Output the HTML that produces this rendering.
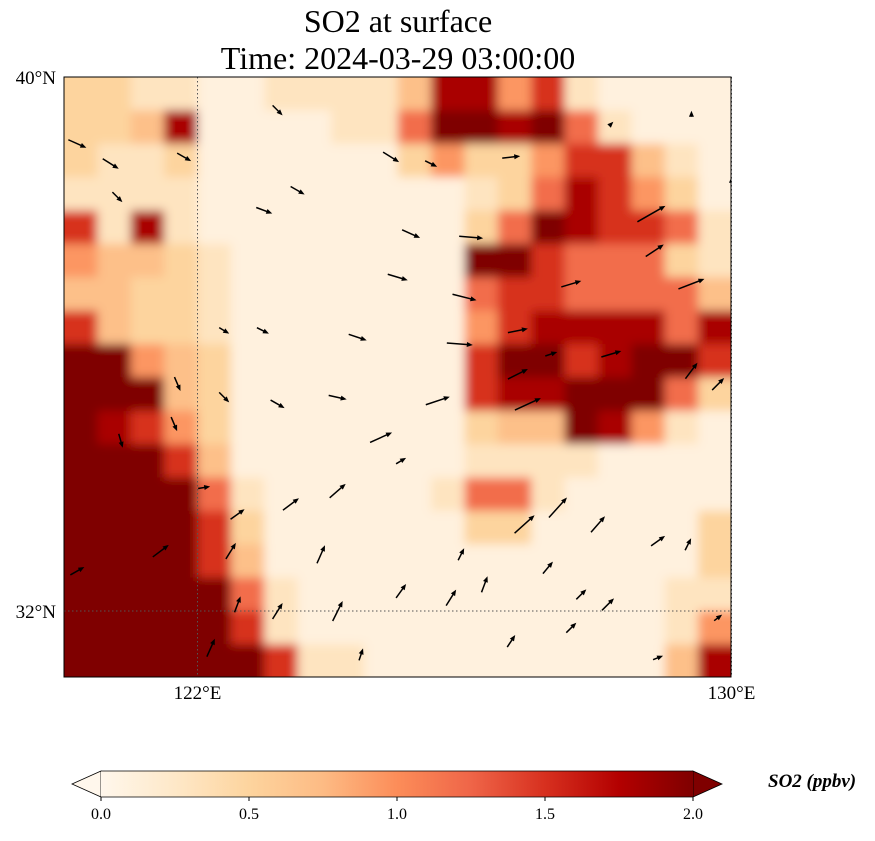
<!DOCTYPE html>
<html><head><meta charset="utf-8">
<style>
html,body{margin:0;padding:0;background:#fff;}
body{width:875px;height:836px;overflow:hidden;font-family:"Liberation Serif",serif;}
svg text{font-family:"Liberation Serif",serif;}
</style></head>
<body>
<svg id="chart" width="875" height="836" viewBox="0 0 875 836" xmlns="http://www.w3.org/2000/svg">
  <text x="398" y="32" font-size="32" text-anchor="middle">SO2 at surface</text>
  <text x="398" y="69" font-size="32" text-anchor="middle">Time: 2024-03-29 03:00:00</text>
  <defs><clipPath id="mapclip"><rect x="64" y="77" width="667" height="600"/></clipPath>
  <filter id="soft" x="-5%" y="-5%" width="110%" height="110%"><feGaussianBlur stdDeviation="5"/></filter>
  <linearGradient id="cbgrad" x1="0" x2="1" y1="0" y2="0"></linearGradient></defs>
  <g clip-path="url(#mapclip)"><g id="cells" filter="url(#soft)"></g></g>
  <g id="grid"></g>
  <g id="arrows" clip-path="url(#mapclip)"></g>
  <rect x="64" y="77" width="667" height="600" fill="none" stroke="#000" stroke-width="1"/>
  <g id="ticks"></g>
  <g id="colorbar"></g>
  <text x="768" y="787" font-size="19" font-weight="bold" font-style="italic">SO2 (ppbv)</text>
</svg>
<script>
// SO2 grid: rows from lat 40 down to 31 (0.5 deg), cols lon 120..130 (0.5 deg); digit = level index
const so2Rows = [
"33221122224885721111",
"33481111226998962111",
"32231111113533577421",
"22221111111123687531",
"72821111111136987762",
"54432111111199766632",
"44332111111167766664",
"74332111111157888868",
"99543111111179978997",
"99943111111178899963",
"98753111111134498521",
"99974111111122221111",
"99996211111266211111",
"99997311111133111113",
"99997411111111111113",
"99999621111111111122",
"99999721111111111125",
"99999972211111111148"
];
const so2Levels = [0.0,0.1,0.3,0.5,0.7,0.95,1.2,1.5,1.8,2.0];
const windLon = [120.2,120.7,120.8,121.8,123.0,123.5,123.2,124.9,125.5,126.7,125.2,126.1,125.0,126.0,126.8,125.93,124.4,122.98,122.4,121.7,122.4,123.2,124.1,125.6,124.75,126.8,126.95,127.6,128.2,127.3,128.8,128.85,129.4,129.4,129.8,128.0,127.4,126.9,128.9,129.35,122.6,123.4,124.1,123.85,122.5,121.45,120.2,125.05,125.8,126.3,127.25,127.75,128.15,124.1,123.2,122.6,122.2,124.45,126.7,127.6,125.05,125.95,122.1,120.85,121.65,128.2,129.4,128.9,129.8,130.0];
const windLat = [39.0,38.7,38.2,38.8,38.0,38.3,39.5,38.8,38.7,38.8,37.65,37.6,37.0,36.7,36.2,36.0,36.1,36.2,36.2,35.4,35.2,35.1,35.2,35.15,34.6,35.55,35.1,36.9,35.85,35.85,37.95,37.4,36.9,35.6,35.4,33.3,33.55,33.3,33.05,33.0,33.45,33.6,33.8,32.85,32.9,32.9,32.6,32.3,32.2,32.4,32.65,32.25,32.1,32.0,32.0,32.1,31.45,31.35,31.55,31.75,34.25,32.85,33.85,34.55,34.8,39.3,39.45,31.3,31.9,38.4];
const windU = [4.5,4,2.5,3.5,4,3.5,2.5,4,3,4.5,4.5,6,5,6,5,6.5,4.5,3,2.5,1.5,2.5,3.5,4.5,6,5.5,5,6.5,5,5,3,7,4.5,6.5,3,3,3.5,4.5,5,3.5,1.5,3.5,4,4,2,2.5,4,3.5,2.5,2.5,1.5,2.5,2.5,3,2.5,2.5,1.5,2,1,2,2.5,2.5,1.5,3,1,1.5,1,0,2.5,2,0];
const windV = [-2,-2.5,-2.5,-2,-1.5,-2,-2.5,-2.5,-1.5,0.5,-2,-0.5,-1.5,-1.5,1,-0.5,-1.5,-1.5,-1.5,-3.5,-2.5,-2,-1,2,2.5,2.5,3,1.5,1.5,1,4,3,2.5,4,3,4,5,4.5,2.5,3,2.5,3,3.5,4.5,4,3,2,3.5,4,4,3,2.5,3,5,4,4,4.5,3,3,2.5,1.5,3,0.5,-3.5,-3.5,1,1.5,1,1.5,3.5];
const cbTicks = [0.0,0.5,1.0,1.5,2.0];
const latTicks = [40,32];
const lonTicks = [122,130];

const NS="http://www.w3.org/2000/svg";
const X0=64, Y0=77, PX=66.75, LON0=120, LAT0=40;
function xOf(lon){return X0+(lon-LON0)*PX;}
function yOf(lat){return Y0+(LAT0-lat)*PX;}
const stops=["#fff7ec","#fee8c8","#fdd49e","#fdbb84","#fc8d59","#ef6548","#d7301f","#b30000","#7f0000"];
function hex(c){return [1,3,5].map(i=>parseInt(c.substr(i,2),16));}
function color(v){let t=Math.max(0,Math.min(1,v/2))*(stops.length-1);let i=Math.min(stops.length-2,Math.floor(t));let f=t-i;let a=hex(stops[i]),b=hex(stops[i+1]);
return "rgb("+a.map((x,k)=>Math.round(x+(b[k]-x)*f)).join(",")+")";}
function mk(tag,attrs,parent){const e=document.createElementNS(NS,tag);for(const k in attrs)e.setAttribute(k,attrs[k]);parent.appendChild(e);return e;}

const cells=document.getElementById('cells');
so2Rows.forEach((row,j)=>{[...row].forEach((ch,i)=>{
  const lon=LON0+i*0.5, lat=LAT0-j*0.5;
  let x=xOf(lon), y=yOf(lat), w=PX*0.5+0.6, h=PX*0.5+0.6;
  if(i===0){x-=20;w+=20;} if(i===19){w+=20;} if(j===0){y-=20;h+=20;} if(j===17){h+=20;}
  const r=mk('rect',{x:x,y:y,width:w,height:h,fill:color(so2Levels[+ch])},cells);
  
  
});});

const grid=document.getElementById('grid');
lonTicks.forEach(l=>{const g=mk('line',{x1:xOf(l),x2:xOf(l),y1:77,y2:677,stroke:"#555","stroke-width":1,"stroke-dasharray":"1.5,2.5"},grid);

});
latTicks.forEach(l=>{const g=mk('line',{x1:64,x2:731,y1:yOf(l),y2:yOf(l),stroke:"#555","stroke-width":1,"stroke-dasharray":"1.5,2.5"},grid);

});

const arrows=document.getElementById('arrows');
windLon.forEach((lon,k)=>{
  const cx=xOf(lon), cy=yOf(windLat[k]);
  const dx=windU[k]*4, dy=-windV[k]*4;
  const L=Math.hypot(dx,dy)||1, ux=dx/L, uy=dy/L;
  const x1=cx-dx/2,y1=cy-dy/2,x2=cx+dx/2,y2=cy+dy/2;
  const g=mk('g',{},arrows);
  
  
  mk('line',{x1:x1,y1:y1,x2:x2-ux*3,y2:y2-uy*3,stroke:"#000","stroke-width":1.5},g);
  const hx=x2-ux*6, hy=y2-uy*6;
  mk('polygon',{points:`${x2},${y2} ${hx-uy*2.5},${hy+ux*2.5} ${hx+uy*2.5},${hy-ux*2.5}`,fill:"#000"},g);
});

const ticks=document.getElementById('ticks');
latTicks.forEach(l=>{
  const t=mk('text',{x:56,y:yOf(l)+7,"font-size":19,"text-anchor":"end"},ticks);t.textContent=l+"°N";
  
  
});
lonTicks.forEach(l=>{
  const t=mk('text',{x:xOf(l),y:699,"font-size":19,"text-anchor":"middle"},ticks);t.textContent=l+"°E";
  
  
});

const cb=document.getElementById('colorbar');
const grad=document.getElementById('cbgrad');
stops.forEach((s,i)=>mk('stop',{offset:(i/(stops.length-1)*100)+"%","stop-color":s},grad));
const CBX0=101, CBX1=693, CBY=771, CBH=26;
mk('polygon',{points:`${CBX0},${CBY} 72,${CBY+CBH/2} ${CBX0},${CBY+CBH}`,fill:stops[0],stroke:"#000","stroke-width":0.8},cb);
mk('polygon',{points:`${CBX1},${CBY} 722,${CBY+CBH/2} ${CBX1},${CBY+CBH}`,fill:stops[8],stroke:"#000","stroke-width":0.8},cb);
mk('rect',{x:CBX0,y:CBY,width:CBX1-CBX0,height:CBH,fill:"url(#cbgrad)"},cb);
mk('path',{d:`M${CBX0},${CBY} L${CBX1},${CBY} M${CBX0},${CBY+CBH} L${CBX1},${CBY+CBH}`,stroke:"#000","stroke-width":0.8,fill:"none"},cb);
cbTicks.forEach(v=>{
  const x=CBX0+(CBX1-CBX0)*v/2;
  mk('line',{x1:x,x2:x,y1:CBY+CBH,y2:CBY+CBH+4,stroke:"#000"},cb);
  const t=mk('text',{x:x,y:CBY+CBH+22,"font-size":16,"text-anchor":"middle"},cb);t.textContent=v.toFixed(1);
  
  
});
</script>
</body></html>
